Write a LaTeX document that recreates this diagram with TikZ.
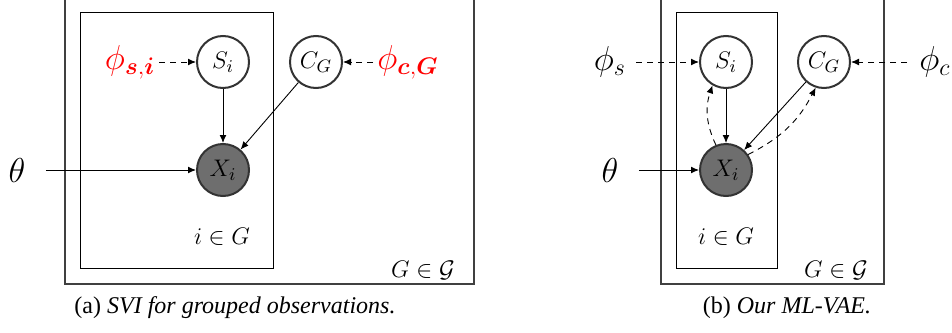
\documentclass[tikz,border=0pt]{standalone}
\usepackage{amsmath}
\usepackage{amssymb}
\usepackage{bm}
\usepackage{fontspec}
\newfontfamily\capfont{Liberation Serif}
\usepackage{tikz}
\usetikzlibrary{arrows.meta,positioning}

\tikzset{
    latent/.style={circle,draw=black!80,line width=1pt,fill=white,minimum size=26pt,inner sep=0pt,font=\fontsize{12.5}{14}\selectfont},
    observed/.style={latent,fill=black!57},
    param/.style={inner sep=2pt,font=\fontsize{17}{19}\selectfont},
    plate/.style={draw=black,line width=0.5pt},
    outerplate/.style={draw=black!75,line width=0.8pt},
    platelabel/.style={font=\fontsize{12.5}{14}\selectfont},
    edge/.style={->,line width=0.45pt},
    infer/.style={->,line width=0.45pt,dash pattern=on 3pt off 2.5pt},
    capt/.style={font=\capfont\fontsize{12}{14}\selectfont}
}

\begin{document}
\begin{tikzpicture}[x=0.5pt,y=-0.5pt,>={Latex[length=4pt,width=3.4pt]}]
    \useasboundingbox (0,0) rectangle (952,332);

    % (a) SVI for grouped observations
    \begin{scope}
        % Plates
        \draw[outerplate] (65,-20) rectangle (474,284);
        \draw[plate] (80,12) rectangle (273,268);
        \node[platelabel] (la) at (222,237) {$i \in G$};
        \node[platelabel] (lga) at (423,270) {$G \in \mathcal{G}$};

        % Variables
        \node[latent] (sa) at (223,62) {$S_i$};
        \node[latent] (ca) at (316,62) {$C_G$};
        \node[observed] (xa) at (223,170) {$X_i$};

        % Parameters
        \node[param,red] (phisa) at (130,62) {$\phi_{\boldsymbol{s},\boldsymbol{i}}$};
        \node[param,red] (phica) at (408,62) {$\phi_{\boldsymbol{c},\boldsymbol{G}}$};
        \node[param] (thetaa) at (17,170) {$\theta$};

        % Edges
        \draw[infer] (phisa) -- (sa);
        \draw[infer] (phica) -- (ca);
        \draw[edge] (sa) -- (xa);
        \draw[edge] (ca) -- (xa);
        \draw[edge,shorten <=8pt] (thetaa) -- (xa);

        \node[capt] (capa) at (235,308) {(a) \textit{SVI for grouped observations.}};
    \end{scope}

    % (b) Our ML-VAE
    \begin{scope}[xshift=280pt]
        % Plates
        \draw[outerplate] (101,-20) rectangle (324,284);
        \draw[plate] (116,12) rectangle (217,268);
        \node[platelabel] (lb) at (166,237) {$i \in G$};
        \node[platelabel] (lgb) at (276,270) {$G \in \mathcal{G}$};

        % Variables
        \node[latent] (sb) at (166,62) {$S_i$};
        \node[latent] (cb) at (264,62) {$C_G$};
        \node[observed] (xb) at (166,170) {$X_i$};

        % Parameters
        \node[param] (phisb) at (50,62) {$\phi_s$};
        \node[param] (phicb) at (375,62) {$\phi_c$};
        \node[param] (thetab) at (50,170) {$\theta$};

        % Edges
        \draw[infer,shorten <=3pt] (phisb) -- (sb);
        \draw[infer,shorten <=4pt] (phicb) -- (cb);
        \draw[edge] (sb) -- (xb);
        \draw[edge] (cb) -- (xb);
        \draw[edge,shorten <=8pt] (thetab) -- (xb);
        \draw[infer] (xb.112) to[bend left=22] (sb.240);
        \draw[infer] (xb.35) to[bend right=18] (cb.252);

        \node[capt] (capb) at (227,308) {(b) \textit{Our ML-VAE.}};
    \end{scope}
\end{tikzpicture}
\end{document}
